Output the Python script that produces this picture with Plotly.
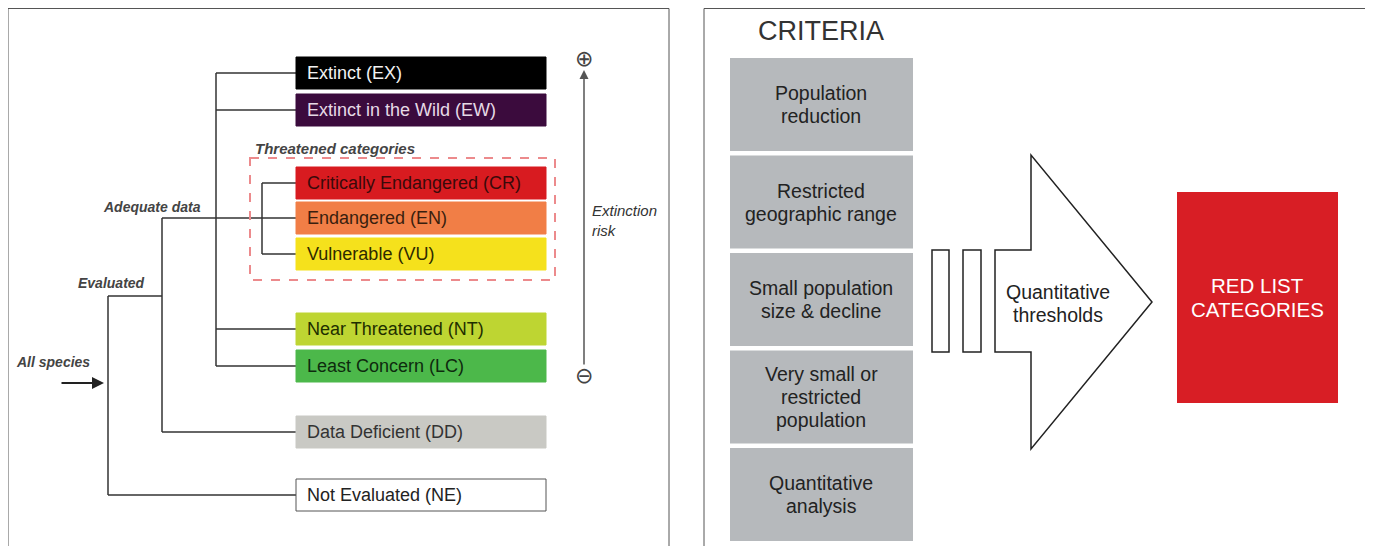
import plotly.graph_objects as go

# ---------------- data ----------------
cat_labels = ["Extinct (EX)", "Extinct in the Wild (EW)", "Critically Endangered (CR)",
              "Endangered (EN)", "Vulnerable (VU)", "Near Threatened (NT)",
              "Least Concern (LC)", "Data Deficient (DD)", "Not Evaluated (NE)"]
cat_fill = ["#000000", "#3b0b3d", "#d81b20", "#f17e46", "#f5e11c",
            "#bed532", "#4cb84a", "#c9c9c4", "#ffffff"]
cat_text = ["#f2f2f2", "#e6dae6", "#3a0a0a", "#3a1e0e", "#2e2a00",
            "#1e2e00", "#0e2a0e", "#333333", "#222222"]

branch_labels = ["Adequate data", "Evaluated", "All species"]
group_label = "Threatened categories"
risk_label = "Extinction<br>risk"

criteria_title = "CRITERIA"
criteria = ["Population<br>reduction", "Restricted<br>geographic range",
            "Small population<br>size & decline", "Very small or<br>restricted<br>population",
            "Quantitative<br>analysis"]
threshold_label = "Quantitative<br>thresholds"
result_label = "RED LIST<br>CATEGORIES"

# ---------------- layout constants ----------------
W, H = 1373, 546
OFF = 8  # page body margin
row_top = [57, 94, 167, 202, 238, 313, 350, 416, 479]
box_x0, box_x1, box_h = 296, 546, 32
FONT = "Liberation Sans, Arial, sans-serif"
LINE = dict(color="#333333", width=1.5)

shapes, annotations = [], []

def hline(x0, x1, y):
    shapes.append(dict(type="line", xref="x", yref="y", x0=x0, x1=x1, y0=y, y1=y, line=LINE))

def vline(x, y0, y1):
    shapes.append(dict(type="line", xref="x", yref="y", x0=x, x1=x, y0=y0, y1=y1, line=LINE))

def multiline(text, cx, cy, size, color, spacing):
    lines = text.split("<br>")
    n = len(lines)
    for k, ln in enumerate(lines):
        annotations.append(dict(x=cx, y=cy + (k - (n - 1) / 2) * spacing, xref="x", yref="y",
                                text=ln, showarrow=False, xanchor="center", yanchor="middle",
                                font=dict(family=FONT, size=size, color=color)))

# panel frames
shapes.append(dict(type="rect", xref="x", yref="y", x0=8, x1=669, y0=8.5, y1=560,
                   line=dict(color="#555555", width=1)))
shapes.append(dict(type="rect", xref="x", yref="y", x0=704, x1=1367, y0=8.5, y1=560,
                   line=dict(color="#555555", width=1)))

mid = [t + box_h / 2 for t in row_top]

# tree lines
x_adeq, x_thr, x_eval, x_all = 216, 262, 162, 108
vline(x_adeq, mid[0], mid[6])
for i in (0, 1, 5, 6):
    hline(x_adeq, box_x0, mid[i])
vline(x_thr, mid[2], mid[4])
hline(x_thr, box_x0, mid[2])
hline(x_thr, box_x0, mid[4])
hline(x_eval, box_x0, mid[3])
vline(x_eval, mid[3], mid[7])
hline(x_eval, box_x0, mid[7])
y_eval = 296
hline(x_all, x_eval, y_eval)
vline(x_all, y_eval, mid[8])
hline(x_all, box_x0, mid[8])

# threatened dashed box
shapes.append(dict(type="rect", xref="x", yref="y", x0=250, x1=555, y0=158, y1=280,
                   line=dict(color="#ec8a8c", width=2, dash="dash")))

# category boxes
for lab, f, tc, t in zip(cat_labels, cat_fill, cat_text, row_top):
    shapes.append(dict(type="rect", xref="x", yref="y", x0=box_x0, x1=box_x1,
                       y0=t, y1=t + box_h, fillcolor=f,
                       line=dict(color="#555555" if f == "#ffffff" else f, width=1)))
    annotations.append(dict(x=box_x0 + 9, y=t + box_h / 2, xref="x", yref="y",
                            text=lab, showarrow=False, xanchor="left", yanchor="middle",
                            font=dict(family=FONT, size=18, color=tc)))

# italic labels
annotations.append(dict(x=253, y=148, xref="x", yref="y", text="<b><i>" + group_label + "</i></b>",
                        showarrow=False, xanchor="left", yanchor="middle",
                        font=dict(family=FONT, size=15, color="#444444")))
for lab, (lx, ly) in zip(branch_labels, [(101, 207), (76, 283), (14, 362)]):
    annotations.append(dict(x=lx, y=ly, xref="x", yref="y", text="<b><i>" + lab + "</i></b>",
                            showarrow=False, xanchor="left", yanchor="middle",
                            font=dict(family=FONT, size=14, color="#444444")))
annotations.append(dict(x=590, y=220, xref="x", yref="y", text="<i>" + risk_label + "</i>",
                        showarrow=False, xanchor="left", yanchor="middle", align="left",
                        font=dict(family=FONT, size=15, color="#333333")))

# arrows
annotations.append(dict(x=104, y=383, ax=60, ay=383, xref="x", yref="y", axref="x", ayref="y",
                        text="", showarrow=True, arrowhead=2, arrowsize=1.2, arrowwidth=2,
                        arrowcolor="#222222"))
annotations.append(dict(x=584, y=70, ax=584, ay=366, xref="x", yref="y", axref="x", ayref="y",
                        text="", showarrow=True, arrowhead=2, arrowsize=1.2, arrowwidth=1.5,
                        arrowcolor="#555555"))
for sym, yy in (("⊕", 58), ("⊖", 375)):
    annotations.append(dict(x=584, y=yy, xref="x", yref="y", text=sym, showarrow=False,
                            xanchor="center", yanchor="middle",
                            font=dict(family="DejaVu Sans", size=22, color="#444444")))

# ---------------- right panel ----------------
annotations.append(dict(x=821, y=31, xref="x", yref="y", text=criteria_title, showarrow=False,
                        xanchor="center", yanchor="middle",
                        font=dict(family=FONT, size=27, color="#333333")))
crit_top, crit_step, crit_h = 58, 97.5, 93
for i, lab in enumerate(criteria):
    t = crit_top + i * crit_step
    shapes.append(dict(type="rect", xref="x", yref="y", x0=730, x1=913, y0=t, y1=t + crit_h,
                       fillcolor="#b6b9bc", line=dict(width=0)))
    multiline(lab, 821, t + crit_h / 2, 19.5, "#222222", 23)

for x0, x1 in ((932, 949), (963, 981)):
    shapes.append(dict(type="rect", xref="x", yref="y", x0=x0, x1=x1, y0=250, y1=352,
                       fillcolor="#ffffff", line=dict(color="#222222", width=1.5)))
shapes.append(dict(type="path", xref="x", yref="y",
                   path="M 995,250 L 1031,250 L 1031,155 L 1152,302 L 1031,449 L 1031,352 L 995,352 Z",
                   fillcolor="#ffffff", line=dict(color="#222222", width=1.5)))
multiline(threshold_label, 1058, 303, 19.5, "#222222", 23)

shapes.append(dict(type="rect", xref="x", yref="y", x0=1177, x1=1338, y0=192, y1=403,
                   fillcolor="#d81e25", line=dict(width=0)))
multiline(result_label, 1257, 297, 20.5, "#ffffff", 24)

fig = go.Figure()
fig.update_layout(
    width=W - OFF, height=H - OFF, margin=dict(l=0, r=0, t=0, b=0),
    paper_bgcolor="#ffffff", plot_bgcolor="#ffffff", showlegend=False,
    xaxis=dict(range=[OFF, W], visible=False, fixedrange=True),
    yaxis=dict(range=[H, OFF], visible=False, fixedrange=True),
    shapes=shapes, annotations=annotations,
)
fig.write_html("out.html")
